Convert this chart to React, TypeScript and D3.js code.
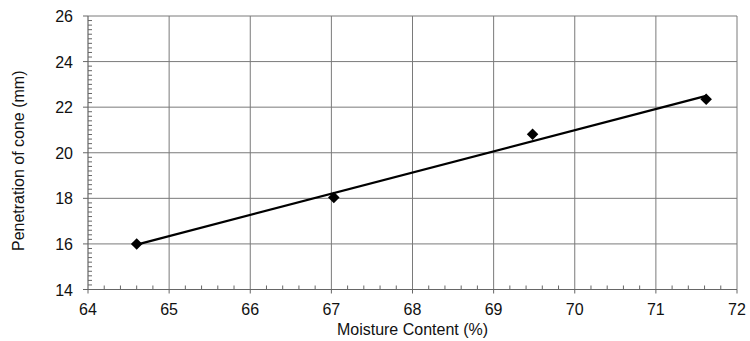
import React from "react";
import * as d3 from "d3";

const moisture = [64.6, 67.03, 69.48, 71.62];
const penetration = [16.0, 18.04, 20.81, 22.35];
const xTicks = [64, 65, 66, 67, 68, 69, 70, 71, 72];
const yTicks = [14, 16, 18, 20, 22, 24, 26];
const xTitle = "Moisture Content (%)";
const yTitle = "Penetration of cone (mm)";

export default function App() {
  const W = 750, H = 341;
  const left = 88, right = 737, top = 16, bottom = 289.5;
  const x = d3.scaleLinear().domain([64, 72]).range([left, right]);
  const y = d3.scaleLinear().domain([14, 26]).range([bottom, top]);

  const mx = d3.mean(moisture)!;
  const my = d3.mean(penetration)!;
  let sxy = 0, sxx = 0;
  moisture.forEach((v, i) => {
    sxy += (v - mx) * (penetration[i] - my);
    sxx += (v - mx) * (v - mx);
  });
  const slope = sxy / sxx;
  const icpt = my - slope * mx;
  const x0 = d3.min(moisture)!, x1 = d3.max(moisture)!;
  const line = d3.line<number>().x((d) => x(d)).y((d) => y(slope * d + icpt));

  const xMinor = d3.range(64, 72.001, 0.2).filter((v) => Math.abs(v - Math.round(v)) > 1e-6);
  const yMinor = d3.range(14, 26.001, 0.2).filter((v) => Math.abs(v / 2 - Math.round(v / 2)) > 1e-6);
  const diamond = d3.symbol().type(d3.symbolDiamond2).size(85)();

  const font = "'Liberation Sans', Arial, sans-serif";
  const grid = "#7a7a7a";
  const axis = "#666";

  return (
    <svg width={W} height={H} style={{ position: "absolute", left: 0, top: 0, background: "#fff" }}>
      {xTicks.slice(1).map((t) => (
        <line key={"gx" + t} x1={x(t)} x2={x(t)} y1={top} y2={bottom} stroke={grid} strokeWidth={1} />
      ))}
      {yTicks.slice(1).map((t) => (
        <line key={"gy" + t} x1={left} x2={right} y1={y(t)} y2={y(t)} stroke={grid} strokeWidth={1} />
      ))}
      {xMinor.map((t, i) => (
        <line key={"mx" + i} x1={x(t)} x2={x(t)} y1={bottom} y2={bottom - 4} stroke={axis} strokeWidth={1} />
      ))}
      {yMinor.map((t, i) => (
        <line key={"my" + i} x1={left} x2={left + 4} y1={y(t)} y2={y(t)} stroke={axis} strokeWidth={1} />
      ))}
      <line x1={left} x2={left} y1={top} y2={bottom} stroke={axis} strokeWidth={1.2} />
      <line x1={left} x2={right} y1={bottom} y2={bottom} stroke={axis} strokeWidth={1.2} />
      {xTicks.map((t) => (
        <g key={"xt" + t}>
          <line x1={x(t)} x2={x(t)} y1={bottom} y2={bottom + 4} stroke={axis} strokeWidth={1} />
          <text x={x(t)} y={bottom + 25.5} textAnchor="middle" fontFamily={font} fontSize={16} fill="#111">
            {t}
          </text>
        </g>
      ))}
      {yTicks.map((t) => (
        <g key={"yt" + t}>
          <line x1={left - 5} x2={left} y1={y(t)} y2={y(t)} stroke={axis} strokeWidth={1} />
          <text x={left - 15} y={y(t) + 6} textAnchor="end" fontFamily={font} fontSize={16} fill="#111">
            {t}
          </text>
        </g>
      ))}
      <path d={line([x0, x1])!} fill="none" stroke="#000" strokeWidth={2.2} />
      {moisture.map((v, i) => (
        <path key={"p" + i} d={diamond!} transform={`translate(${x(v)},${y(penetration[i])})`} fill="#000" />
      ))}
      <text x={(left + right) / 2} y={335} textAnchor="middle" fontFamily={font} fontSize={16} fill="#111">
        {xTitle}
      </text>
      <text
        transform={`translate(24,${(top + bottom) / 2 + 8}) rotate(-90)`}
        textAnchor="middle"
        fontFamily={font}
        fontSize={16}
        fill="#111"
      >
        {yTitle}
      </text>
    </svg>
  );
}
